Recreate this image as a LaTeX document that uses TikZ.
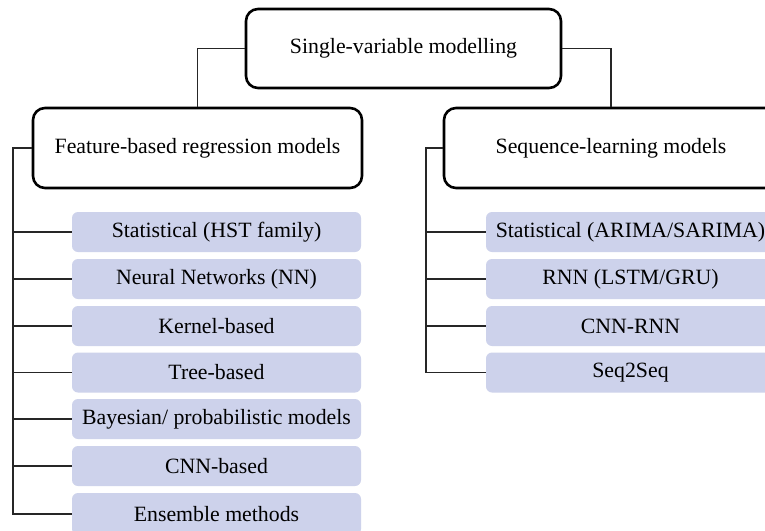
\documentclass[tikz,border=0pt]{standalone}
\usepackage{fontspec}
\setmainfont{Liberation Serif}
\definecolor{boxfill}{RGB}{205,210,235}
\begin{document}
\begin{tikzpicture}[x=1pt,y=-1pt,
  mainbox/.style={draw=black, line width=2.6pt, rounded corners=12pt, fill=white,
    minimum height=80pt, inner sep=0pt, font=\fontsize{21.8}{26}\selectfont},
  leafbox/.style={fill=boxfill, rounded corners=6pt, minimum width=289pt,
    minimum height=40pt, inner sep=0pt, font=\fontsize{21.8}{26}\selectfont},
  link/.style={draw=black!85, line width=1.4pt}]
\clip (0,0) rectangle (765,530);
\fill[white] (0,0) rectangle (765,530);

\node[mainbox, minimum width=315pt, minimum height=79pt] (top) at (403.5,48.5) {Single-variable modelling};
\node[mainbox, minimum width=329pt] (feat) at (197.5,148) {Feature-based regression models};
\node[mainbox, minimum width=334pt] (seq) at (611,148) {Sequence-learning models};

\node[leafbox] (l1) at (216.5,232) {Statistical (HST family)};
\node[leafbox] (l2) at (216.5,279) {Neural Networks (NN)};
\node[leafbox] (l3) at (216.5,326) {Kernel-based};
\node[leafbox] (l4) at (216.5,372.5) {Tree-based};
\node[leafbox] (l5) at (216.5,419) {Bayesian/ probabilistic models};
\node[leafbox] (l6) at (216.5,466) {CNN-based};
\node[leafbox, minimum height=42pt] (l7) at (216.5,514) {Ensemble methods};

\node[leafbox] (r1) at (630.5,232) {Statistical (ARIMA/SARIMA)};
\node[leafbox] (r2) at (630.5,279) {RNN (LSTM/GRU)};
\node[leafbox] (r3) at (630.5,326) {CNN-RNN};
\node[leafbox] (r4) at (630.5,372.5) {Seq2Seq};

\coordinate (ls) at (13,148);
\coordinate (rs) at (426,148);

\draw[link] (top.west) -| (feat.north);
\draw[link] (top.east) -| (seq.north);

\draw[link] (feat.west) -- (ls) |- (l7.west);
\foreach \i in {1,...,6} \draw[link] (l\i.west) -- (l\i.west -| ls);

\draw[link] (seq.west) -- (rs) |- (r4.west);
\foreach \i in {1,2,3} \draw[link] (r\i.west) -- (r\i.west -| rs);
\end{tikzpicture}
\end{document}
